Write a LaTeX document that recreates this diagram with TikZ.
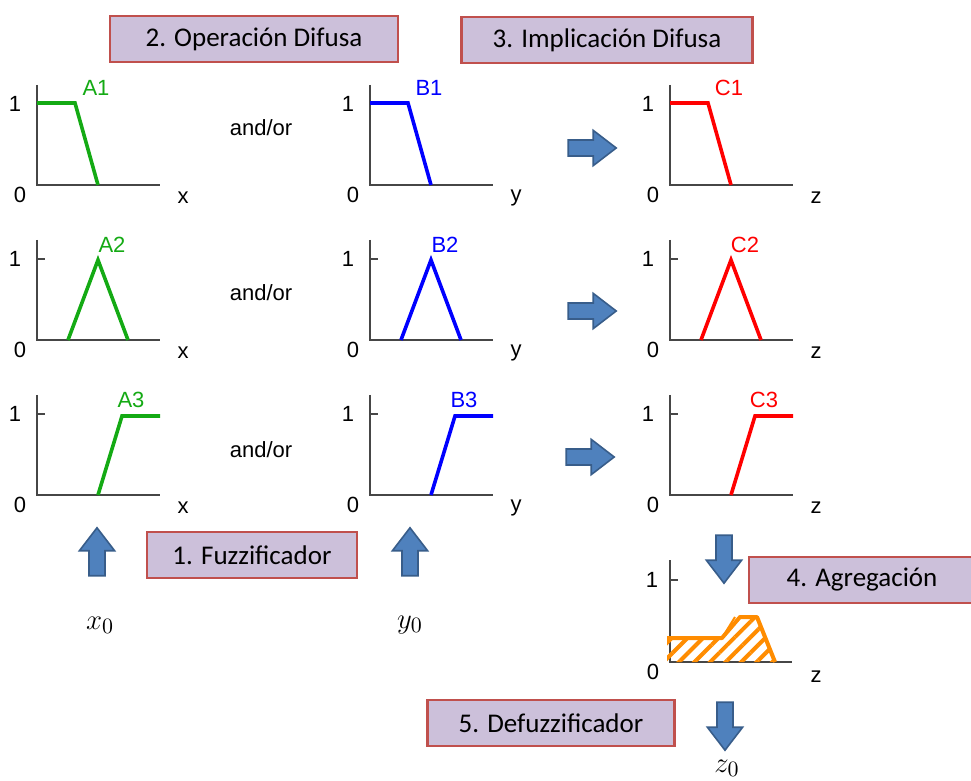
\documentclass[tikz,border=0pt]{standalone}
\usepackage[no-math]{fontspec}
\setmainfont{Liberation Sans}
\newfontfamily\stagefont{Carlito}
\usetikzlibrary{shapes.arrows,patterns.meta}

\definecolor{fzgreen}{RGB}{20,170,20}
\definecolor{fzorange}{RGB}{255,140,0}
\definecolor{stagefill}{RGB}{204,192,218}
\definecolor{stageedge}{RGB}{192,80,77}
\definecolor{arrowfill}{RGB}{79,129,189}
\definecolor{arrowedge}{RGB}{56,93,138}
\definecolor{axisgray}{RGB}{70,70,70}

\tikzset{
  stagebox/.style={draw=stageedge,fill=stagefill,line width=1.3pt,
    font=\stagefont\fontsize{13.5}{16}\selectfont,minimum height=23pt,inner sep=0pt},
  blockarrow/.style={single arrow,draw=arrowedge,fill=arrowfill,line width=0.8pt,
    inner sep=3.6pt,single arrow head extend=4.8pt,single arrow tip angle=75,
    minimum height=24pt},
  axisline/.style={axisgray,line width=0.8pt},
  mfline/.style={line width=1.8pt},
  ticklabel/.style={font=\fontsize{11}{13}\selectfont,inner sep=0pt},
  mathlabel/.style={font=\fontsize{15}{17}\selectfont,inner sep=0pt}
}

\begin{document}
\begin{tikzpicture}[x=0.5pt,y=-0.5pt]
  \useasboundingbox (0,0) rectangle (971,781);

  % stage boxes
  \node[stagebox,minimum width=144pt] (opdif)  at (254,39)  {2. Operación Difusa};
  \node[stagebox,minimum width=145.5pt] (impdif) at (607,40)  {3. Implicación Difusa};
  \node[stagebox,minimum width=105pt] (fuzz)   at (252,555) {1. Fuzzificador};
  \node[stagebox,minimum width=113pt] (agreg)  at (862,580) {4. Agregación};
  \node[stagebox,minimum width=123.5pt] (defuzz) at (551,723) {5. Defuzzificador};

  % membership functions, one column per variable
  \foreach \c/\xo/\var/\col/\L in {a/37/x/fzgreen/A, b/370/y/blue/B, c/670/z/red/C}{
    \foreach \r/\yo in {1/185,2/340,3/495}{
      \draw[axisline] (\xo,\yo-100) -- (\xo,\yo) -- (\xo+123,\yo);
      \draw[axisline] (\xo,\yo-81) -- (\xo+8,\yo-81);
      \node[ticklabel] (one-\c\r)  at (\xo-22,\yo-81) {1};
      \node[ticklabel] (zero-\c\r) at (\xo-17,\yo+10) {0};
      \node[ticklabel] (var-\c\r)  at (\xo+146,\yo+13) {\var};
    }
    \draw[mfline,\col] (\xo,103) -- (\xo+38,103) -- (\xo+61,185);
    \draw[mfline,\col] (\xo+31,340) -- (\xo+61,260) -- (\xo+91,340);
    \draw[mfline,\col] (\xo+61,495) -- (\xo+85,416) -- (\xo+123,416);
    \node[ticklabel,text=\col] (lab-\c1) at (\xo+59,88)  {\L1};
    \node[ticklabel,text=\col] (lab-\c2) at (\xo+75,245) {\L2};
    \node[ticklabel,text=\col] (lab-\c3) at (\xo+94,400) {\L3};
  }

  % and/or between antecedents
  \foreach \r/\yy in {1/128,2/293,3/450}
    \node[ticklabel] (andor-\r) at (261,\yy) {and/or};

  % implication arrows
  \node[blockarrow] (imp-1) at (587,148) {};
  \node[blockarrow] (imp-2) at (587,311) {};
  \node[blockarrow] (imp-3) at (585,457) {};

  % aggregated output
  \draw[axisline] (670,560) -- (670,662) -- (792,662);
  \draw[axisline] (670,580) -- (678,580);
  \node[ticklabel] (one-agg)  at (652,580) {1};
  \node[ticklabel] (zero-agg) at (653,672) {0};
  \node[ticklabel] (var-agg)  at (816,677) {z};
  \fill[pattern={Lines[angle=45,distance=5.5pt,line width=2pt]},pattern color=fzorange]
    (667,662) -- (667,638) -- (722,638) -- (740,617) -- (757,617) -- (775,662) -- cycle;
  \draw[fzorange,line width=2pt,line join=round]
    (667,638) -- (722,638) -- (740,617) -- (757,617) -- (775,662);
  \draw[fzorange,line width=1pt] (722,638) -- (735,617);

  % inputs and output arrows
  \node[blockarrow,shape border rotate=90]  (in-x)  at (97,557)  {};
  \node[blockarrow,shape border rotate=90]  (in-y)  at (410,557) {};
  \node[blockarrow,shape border rotate=270] (agg-in)  at (724,554) {};
  \node[blockarrow,shape border rotate=270] (def-in)  at (725,721) {};
  \node[mathlabel] (x0) at (100,625) {$x_0$};
  \node[mathlabel] (y0) at (410,625) {$y_0$};
  \node[mathlabel] (z0) at (727,768) {$z_0$};
\end{tikzpicture}
\end{document}
